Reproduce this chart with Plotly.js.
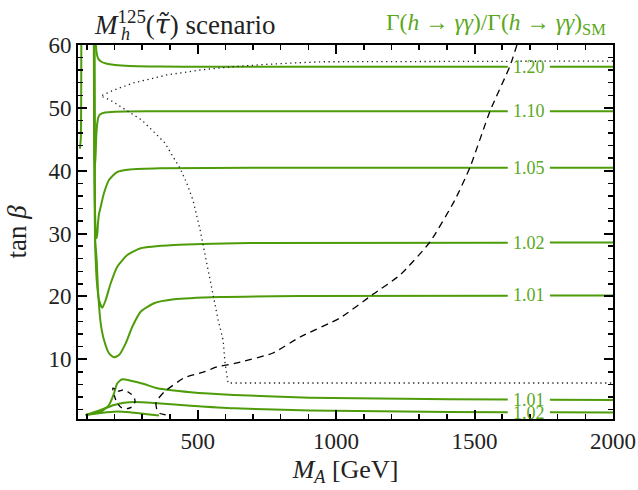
<!DOCTYPE html>
<html>
<head>
<meta charset="utf-8">
<script src="https://cdn.plot.ly/plotly-3.0.1.min.js"></script>
<style>html,body{margin:0;padding:0;background:#fff;}#chart{width:638px;height:490px;}</style>
</head>
<body>
<div id="chart"></div>
<script>
// ---- Data (M_A in GeV, tan beta) ----
const c120_M = [133, 134.8, 140.2, 151, 169, 202, 256, 364, 509, 2000];
const c120_T = [60, 58.9, 57.9, 57.37, 57.06, 56.82, 56.66, 56.58, 56.55, 56.55];

const c110_M = [126, 126.5, 127.6, 129.4, 132.3, 134.1, 137.7, 142, 147.4, 165.5, 201.6, 328, 2000];
const c110_T = [60, 51.25, 43.3, 40.43, 43.3, 45.68, 47.59, 48.55, 48.94, 49.26, 49.39, 49.45, 49.47];

const c105_M = [125.1, 125.8, 126.9, 129.4, 132.3, 135.5, 138.4, 140.2, 143.8, 150, 161.9, 179.9, 208.8, 255.8, 364.1, 689, 2000];
const c105_T = [60, 51.25, 41.7, 33.75, 30.25, 29.25, 30.25, 31.68, 33.11, 34.27, 36.45, 38.52, 39.79, 40.19, 40.38, 40.46, 40.49];

const c102_M = [126.5, 127.6, 129.4, 131.9, 135.5, 143.8, 155.8, 168, 186.1, 209.9, 246, 294.4, 414.7, 689, 2000];
const c102_T = [60, 43.3, 28.98, 25.8, 22.61, 19.43, 18.21, 19.43, 22.09, 24.73, 26.59, 27.66, 28.18, 28.5, 28.58];

const c101_M = [127.6, 128.7, 130.1, 135.5, 140.2, 150, 161.9, 179.9, 198, 216.1, 240.3, 264.1, 294.4, 342.5, 414.7, 580.8, 869.7, 2000];
const c101_T = [60, 43.3, 28.98, 25.8, 21.02, 15.73, 13.07, 10.96, 10.32, 10.68, 12.54, 15.18, 17.57, 18.91, 19.54, 19.91, 20.07, 20.15];

const edge_M = [80, 79.5, 78, 75];
const edge_T = [60, 51, 45, 43.5];

const low101_M = [95.8, 150, 179.9, 198, 209.9, 228, 258.3, 306.3, 354.4, 475, 631.3, 905.8, 1411, 2000];
const low101_T = [1.14, 1.66, 2.73, 4.59, 6.18, 6.82, 6.59, 6.07, 5.38, 4.75, 4.32, 3.89, 3.64, 3.52];

const low102_M = [95.8, 150, 198, 234.1, 276.4, 354.4, 475, 631.3, 905.8, 1411, 2000];
const low102_T = [1.14, 1.93, 2.73, 3.09, 3.2, 3.0, 2.62, 2.2, 1.85, 1.61, 1.53];

const lowest_M = [95.8, 150, 208.8, 255.8, 310, 360.5];
const lowest_T = [1.14, 1.46, 1.7, 1.57, 1.3, 1.06];

const dash_M = [1653, 1628, 1556, 1484, 1429, 1339, 1231, 1130, 1014, 870, 772, 642, 570, 523, 451, 379, 350, 353, 364, 400];
const dash_T = [60, 56.66, 49.5, 40.59, 35.34, 28.66, 23.41, 20.23, 16.57, 13.55, 11.0, 9.41, 8.78, 7.98, 7.03, 4.8, 3.21, 1.93, 1.38, 1.06];

const loop_M = [194, 212, 231, 249, 267, 274, 267, 249, 227, 212, 202, 194];
const loop_T = [5.43, 4.95, 5.11, 4.8, 4.16, 3.36, 2.57, 2.17, 2.25, 2.89, 3.84, 5.43];

const dot_M = [2000, 1592, 1231, 942, 870, 750, 628, 509, 389, 267, 198, 165.5, 150, 184, 213.5, 244, 298, 346, 382, 411, 436, 460.5, 483, 509, 530, 552, 574, 592, 599, 610, 2000];
const dot_T = [57.45, 57.41, 57.36, 57.33, 57.18, 56.93, 56.55, 56.02, 55.23, 53.95, 52.84, 52.2, 51.89, 51.25, 50.45, 49.66, 48.07, 46.0, 44.41, 42.23, 40.43, 38.05, 35.34, 30.57, 25.8, 21.02, 16.25, 13.07, 9.41, 6.23, 6.23];

const contourLabels = ['1.20', '1.10', '1.05', '1.02', '1.01', '1.01', '1.02'];
const labelM = 1695;          // where the inline contour labels sit
const labelGap = [1620, 1772]; // line is interrupted here for the labels

// ---- styling ----
const GREEN = '#4e9c0a';
const GREEN_TXT = '#5aa81c';
const FONT = 'Liberation Serif, DejaVu Serif, serif';

function withGap(xs, ys, g0, g1) {
  const X = [], Y = [];
  for (let i = 0; i < xs.length; i++) {
    if (i > 0) {
      const x0 = xs[i-1], y0 = ys[i-1], x1 = xs[i], y1 = ys[i];
      const lerp = gx => y0 + (y1 - y0) * (gx - x0) / (x1 - x0);
      if (x0 <= g0 && x1 > g0) { X.push(g0); Y.push(lerp(g0)); X.push(null); Y.push(null); }
      if (x0 < g1 && x1 >= g1) { X.push(g1); Y.push(lerp(g1)); }
    }
    if (!(xs[i] > g0 && xs[i] < g1)) { X.push(xs[i]); Y.push(ys[i]); }
  }
  return {X, Y};
}

const greenSets = [
  [c120_M, c120_T, contourLabels[0]],
  [c110_M, c110_T, contourLabels[1]],
  [c105_M, c105_T, contourLabels[2]],
  [c102_M, c102_T, contourLabels[3]],
  [c101_M, c101_T, contourLabels[4]],
  [low101_M, low101_T, contourLabels[5]],
  [low102_M, low102_T, contourLabels[6]],
  [lowest_M, lowest_T, null],
  [edge_M, edge_T, null]
];

const traces = [];
const annotations = [];
greenSets.forEach(([M, T, lab]) => {
  const g = lab ? withGap(M, T, labelGap[0], labelGap[1]) : {X: M, Y: T};
  traces.push({x: g.X, y: g.Y, mode: 'lines', type: 'scatter', hoverinfo: 'skip',
    line: {color: GREEN, width: 2, shape: 'spline', smoothing: 0.6}});
  if (lab) {
    annotations.push({x: labelM, y: T[T.length-1], xref: 'x', yref: 'y', text: lab,
      showarrow: false, font: {family: FONT, size: 18, color: GREEN_TXT}, xanchor: 'center', yanchor: 'middle'});
  }
});

traces.push({x: dash_M, y: dash_T, mode: 'lines', type: 'scatter', hoverinfo: 'skip',
  line: {color: '#000', width: 1.3, dash: '7px,5px', shape: 'spline', smoothing: 0.5}});
traces.push({x: loop_M, y: loop_T, mode: 'lines', type: 'scatter', hoverinfo: 'skip',
  line: {color: '#000', width: 1.3, dash: '5px,5px', shape: 'spline', smoothing: 0.8}});
traces.push({x: dot_M, y: dot_T, mode: 'lines', type: 'scatter', hoverinfo: 'skip',
  line: {color: '#222', width: 1.3, dash: '1.3px,3.5px'}});

// titles
annotations.push({xref: 'paper', yref: 'paper', x: 0.026, y: 1.008, xanchor: 'left', yanchor: 'bottom',
  text: '<i>M</i><sup>125</sup>(<span style="font-family:\'DejaVu Serif\'"><i>τ̃</i></span>) scenario', showarrow: false,
  font: {family: FONT, size: 27, color: '#222'}});
annotations.push({xref: 'paper', yref: 'paper', x: 0.077, y: 0.998, xanchor: 'left', yanchor: 'bottom',
  text: '<i>h</i>', showarrow: false, font: {family: FONT, size: 18, color: '#222'}});
annotations.push({xref: 'paper', yref: 'paper', x: 0.99, y: 1.01, xanchor: 'right', yanchor: 'bottom',
  text: 'Γ(<i>h</i> → <i>γγ</i>)/Γ(<i>h</i> → <i>γγ</i>)<sub>SM</sub>', showarrow: false,
  font: {family: FONT, size: 23.5, color: GREEN_TXT}});

const axisCommon = {
  showline: true, linewidth: 2, linecolor: '#000', mirror: 'allticks',
  ticks: 'inside', ticklen: 9, tickwidth: 2, tickcolor: '#000',
  showgrid: false, zeroline: false,
  tickfont: {family: FONT, size: 23, color: '#222'}
};

const layout = {
  width: 638, height: 490,
  margin: {l: 78, r: 25, t: 45, b: 71},
  paper_bgcolor: '#fff', plot_bgcolor: '#fff',
  showlegend: false,
  xaxis: Object.assign({}, axisCommon, {
    range: [68, 2000], tick0: 0, dtick: 500,
    minor: {tick0: 0, dtick: 100, ticks: 'inside', ticklen: 5, tickwidth: 1.5, tickcolor: '#000'},
    title: {text: '<i>M</i><sub><i>A</i></sub> [GeV]', font: {family: FONT, size: 26, color: '#222'}, standoff: 7}
  }),
  yaxis: Object.assign({}, axisCommon, {
    range: [0.5, 60], tick0: 0, dtick: 10,
    minor: {tick0: 0, dtick: 2, ticks: 'inside', ticklen: 5, tickwidth: 1.5, tickcolor: '#000'},
    title: {text: 'tan <i>β</i>', font: {family: FONT, size: 27, color: '#222'}, standoff: 14}
  }),
  annotations: annotations
};

Plotly.newPlot('chart', traces, layout, {displayModeBar: false, staticPlot: true});
</script>
</body>
</html>
